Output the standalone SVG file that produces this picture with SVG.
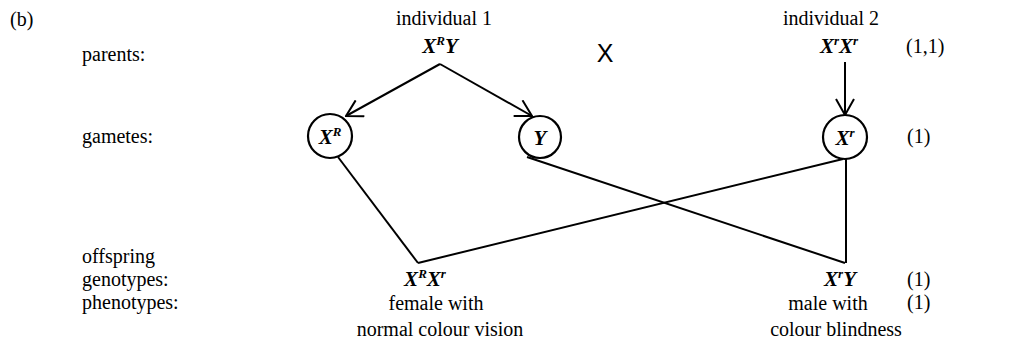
<svg xmlns="http://www.w3.org/2000/svg" width="1010" height="356" viewBox="0 0 1010 356">
<style>
.t{font-family:"Liberation Serif","Times New Roman",serif;font-size:20px;fill:#000}
.g{font-family:"Liberation Serif","Times New Roman",serif;font-size:21px;font-weight:bold;font-style:italic;fill:#000}
.sup{font-size:13px}
.c{text-anchor:middle}
.ln{stroke:#000;stroke-width:2;fill:none}
.circ{stroke:#000;stroke-width:2.2;fill:#fff}
.cross{font-family:"Liberation Sans",Arial,sans-serif;font-size:25px;fill:#000}
</style>
<defs>
<marker id="arr" viewBox="0 0 18 20" refX="17" refY="10" markerWidth="18" markerHeight="20" markerUnits="userSpaceOnUse" orient="auto">
<path d="M1,1 L17,10 L1,19" fill="none" stroke="#000" stroke-width="2"/>
</marker>
</defs>
<rect width="1010" height="356" fill="#fff"/>

<g id="labels">
<text class="t" x="10" y="26">(b)</text>
<text class="t" x="82" y="61">parents:</text>
<text class="t" x="82" y="143">gametes:</text>
<text class="t" x="82" y="263">offspring</text>
<text class="t" x="82" y="286">genotypes:</text>
<text class="t" x="82" y="309">phenotypes:</text>
<text class="cross" x="605" y="62" text-anchor="middle">X</text>
<text class="t" x="906" y="53">(1,1)</text>
<text class="t" x="907" y="143">(1)</text>
<text class="t" x="907" y="286">(1)</text>
<text class="t" x="907" y="309">(1)</text>
</g>

<g id="parent1">
<text class="t c" x="444" y="25">individual 1</text>
<text class="g c" x="440" y="53">X<tspan class="sup" dy="-8">R</tspan><tspan dy="8">Y</tspan></text>
</g>

<g id="parent2">
<text class="t c" x="831" y="25">individual 2</text>
<text class="g c" x="839" y="53">X<tspan class="sup" dy="-8">r</tspan><tspan dy="8">X</tspan><tspan class="sup" dy="-8">r</tspan></text>
</g>

<g id="gamete-XR">
<circle class="circ" cx="330" cy="136" r="22"/>
<text class="g c" x="330" y="144">X<tspan class="sup" dy="-8">R</tspan></text>
</g>

<g id="gamete-Y">
<circle class="circ" cx="540" cy="137" r="21"/>
<text class="g c" x="540" y="145">Y</text>
</g>

<g id="gamete-Xr">
<circle class="circ" cx="845" cy="137" r="22"/>
<text class="g c" x="845" y="145">X<tspan class="sup" dy="-8">r</tspan></text>
</g>

<g id="offspring-female">
<text class="g c" x="425" y="286">X<tspan class="sup" dy="-8">R</tspan><tspan dy="8">X</tspan><tspan class="sup" dy="-8">r</tspan></text>
<text class="t c" x="436" y="310">female with</text>
<text class="t c" x="440" y="336">normal colour vision</text>
</g>

<g id="offspring-male">
<text class="g c" x="840" y="286">X<tspan class="sup" dy="-8">r</tspan><tspan dy="8">Y</tspan></text>
<text class="t c" x="828" y="310">male with</text>
<text class="t c" x="836" y="336">colour blindness</text>
</g>

<g id="connectors">
<line class="ln" x1="440" y1="64" x2="346" y2="116" marker-end="url(#arr)"/>
<line class="ln" x1="440" y1="64" x2="532" y2="116" marker-end="url(#arr)"/>
<line class="ln" x1="845" y1="62" x2="845" y2="115" marker-end="url(#arr)"/>
<line class="ln" x1="338" y1="157" x2="418" y2="263"/>
<line class="ln" x1="418" y1="263" x2="843" y2="159"/>
<line class="ln" x1="527" y1="157" x2="845" y2="263"/>
<line class="ln" x1="846" y1="159" x2="846" y2="263"/>
</g>
</svg>
